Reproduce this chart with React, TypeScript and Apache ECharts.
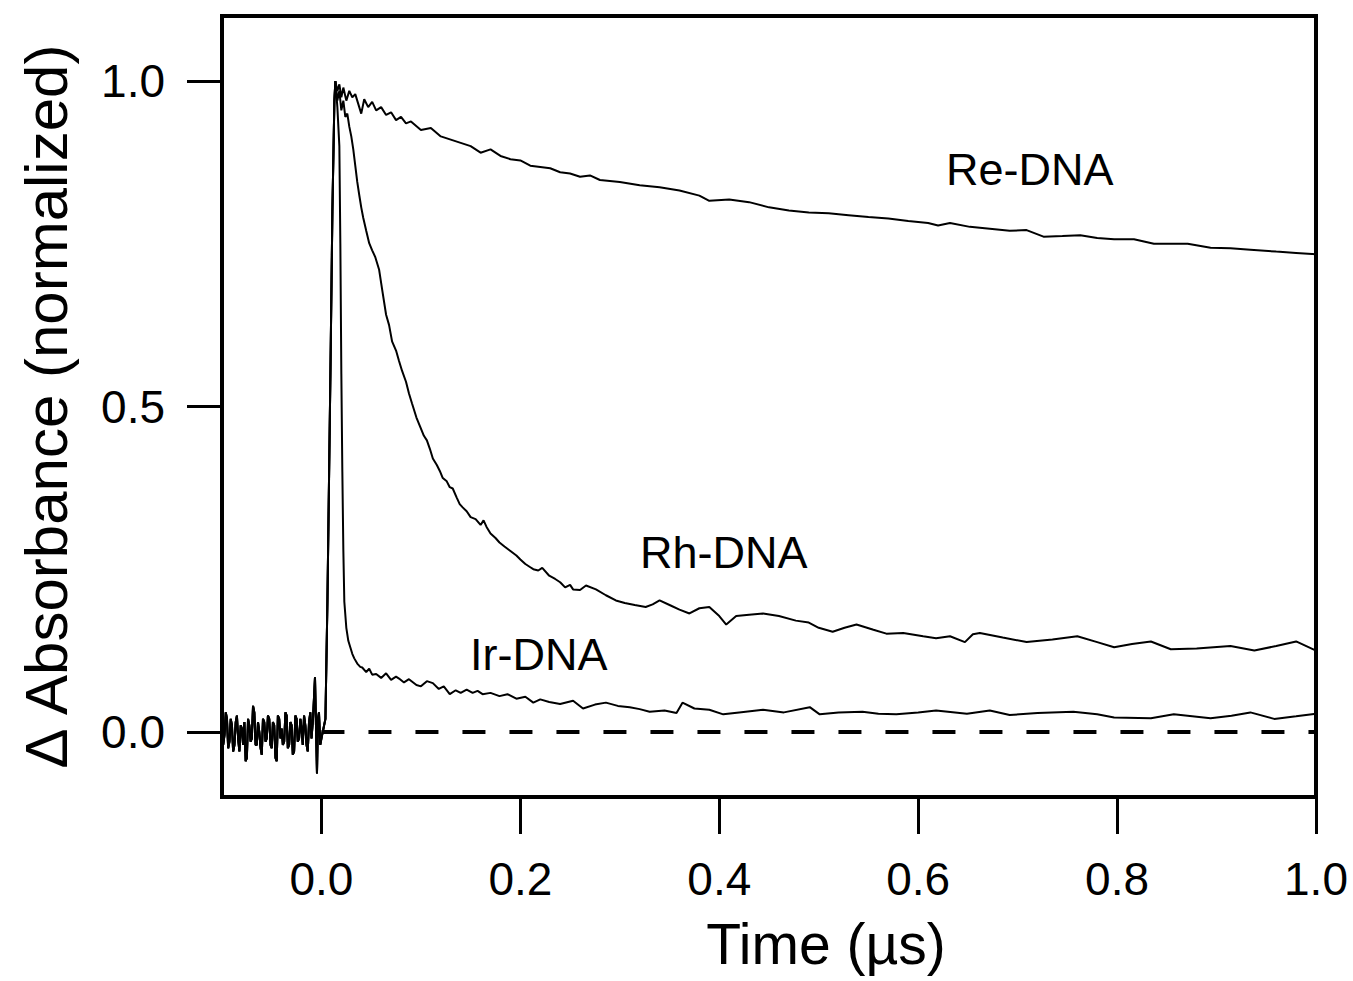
import React, { useEffect, useRef } from "react";
import * as echarts from "echarts";

// ---- data (time in µs, normalized ΔA) ----
const preTrigger: [number, number][] = [
  [-0.1, 0.035], [-0.0988, -0.02], [-0.0975, -0.005], [-0.0962, 0.03], [-0.095, 0.02],
  [-0.0938, -0.025], [-0.0925, -0.015], [-0.0912, 0.02], [-0.09, 0.01], [-0.0888, -0.03],
  [-0.0875, -0.02], [-0.0862, 0.015], [-0.085, 0.025], [-0.0838, -0.01], [-0.0825, -0.03],
  [-0.0812, 0.01], [-0.08, 0.005], [-0.0788, -0.02], [-0.0775, 0.015], [-0.0762, -0.045],
  [-0.075, -0.04], [-0.0738, 0.02], [-0.0725, 0.01], [-0.0712, -0.015], [-0.07, -0.01],
  [-0.0688, 0.04], [-0.0675, 0.03], [-0.0662, -0.02], [-0.065, -0.02], [-0.0638, 0.015],
  [-0.0625, 0.0], [-0.0612, -0.025], [-0.06, -0.035], [-0.0588, 0.02], [-0.0575, 0.015],
  [-0.0562, -0.015], [-0.055, -0.01], [-0.0538, 0.025], [-0.0525, 0.02], [-0.0512, -0.02],
  [-0.05, -0.025], [-0.0488, 0.015], [-0.0475, 0.01], [-0.0462, -0.04], [-0.045, -0.045],
  [-0.0438, 0.025], [-0.0425, 0.02], [-0.0412, -0.01], [-0.04, 0.005], [-0.0388, -0.02],
  [-0.0375, -0.015], [-0.0362, 0.03], [-0.035, 0.025], [-0.0338, -0.025], [-0.0325, -0.02],
  [-0.0312, 0.015], [-0.03, 0.01], [-0.0288, -0.035], [-0.0275, -0.03], [-0.0262, 0.025],
  [-0.025, 0.02], [-0.0238, -0.015], [-0.0225, -0.01], [-0.0212, 0.02], [-0.02, 0.005],
  [-0.0188, -0.02], [-0.0175, 0.025], [-0.0162, 0.01], [-0.015, -0.02], [-0.0138, -0.03],
  [-0.0125, 0.015], [-0.0112, 0.03], [-0.01, -0.01], [-0.0085, 0.02], [-0.0065, 0.084],
  [-0.0055, 0.01], [-0.0045, -0.064], [-0.0035, 0.02], [-0.0025, 0.03], [-0.0012, -0.02],
  [0.0, -0.01],
];

const rise: [number, number][] = [
  [0.004, 0.02], [0.006, 0.2], [0.009, 0.55], [0.011, 0.8], [0.013, 0.97], [0.014, 1.0],
];

const reDecay: [number, number][] = [
  [0.016, 0.985], [0.018, 0.995], [0.02, 0.975], [0.022, 0.99], [0.025, 0.97], [0.028, 0.985],
  [0.031, 0.975], [0.034, 0.98], [0.037, 0.965], [0.04, 0.95], [0.043, 0.972], [0.047, 0.96],
  [0.051, 0.968], [0.055, 0.955], [0.06, 0.96], [0.065, 0.948], [0.07, 0.952], [0.075, 0.94],
  [0.08, 0.945], [0.085, 0.935], [0.09, 0.938], [0.1, 0.925], [0.11, 0.928], [0.12, 0.915],
  [0.13, 0.91], [0.14, 0.905], [0.15, 0.9], [0.16, 0.89], [0.17, 0.895], [0.18, 0.885],
  [0.19, 0.88], [0.2, 0.878], [0.21, 0.87], [0.22, 0.868], [0.23, 0.866], [0.24, 0.86],
  [0.25, 0.858], [0.26, 0.853], [0.27, 0.855], [0.28, 0.848], [0.3, 0.845], [0.32, 0.84],
  [0.34, 0.837], [0.36, 0.832], [0.38, 0.824], [0.39, 0.816], [0.41, 0.818], [0.43, 0.814],
  [0.45, 0.806], [0.47, 0.801], [0.49, 0.798], [0.51, 0.797], [0.53, 0.794], [0.55, 0.791],
  [0.57, 0.789], [0.59, 0.785], [0.61, 0.782], [0.62, 0.778], [0.632, 0.782], [0.652, 0.776],
  [0.672, 0.773], [0.692, 0.77], [0.709, 0.771], [0.726, 0.761], [0.745, 0.762], [0.763, 0.763],
  [0.78, 0.759], [0.797, 0.757], [0.817, 0.757], [0.837, 0.75], [0.855, 0.75], [0.871, 0.75],
  [0.894, 0.744], [0.914, 0.743], [0.934, 0.741], [0.96, 0.738], [0.98, 0.736], [1.0, 0.734],
];

const rhDecay: [number, number][] = [
  [0.016, 0.97], [0.018, 0.985], [0.02, 0.955], [0.022, 0.97], [0.024, 0.945], [0.026, 0.95],
  [0.028, 0.93], [0.03, 0.915], [0.032, 0.895], [0.034, 0.87], [0.036, 0.845], [0.038, 0.825],
  [0.04, 0.806], [0.042, 0.79], [0.045, 0.77], [0.048, 0.751], [0.051, 0.74], [0.054, 0.73],
  [0.058, 0.71], [0.061, 0.68], [0.065, 0.641], [0.068, 0.625], [0.071, 0.6], [0.075, 0.586],
  [0.078, 0.57], [0.081, 0.555], [0.085, 0.538], [0.088, 0.52], [0.091, 0.505], [0.0955, 0.483],
  [0.099, 0.47], [0.103, 0.455], [0.106, 0.448], [0.109, 0.435], [0.112, 0.42], [0.116, 0.41],
  [0.119, 0.401], [0.122, 0.39], [0.126, 0.385], [0.129, 0.376], [0.132, 0.374], [0.136, 0.36],
  [0.139, 0.35], [0.142, 0.345], [0.146, 0.339], [0.15, 0.33], [0.155, 0.327], [0.16, 0.318],
  [0.163, 0.325], [0.166, 0.315], [0.17, 0.305], [0.175, 0.298], [0.179, 0.291], [0.184, 0.285],
  [0.19, 0.278], [0.196, 0.271], [0.2, 0.265], [0.205, 0.258], [0.21, 0.253], [0.213, 0.25],
  [0.218, 0.248], [0.222, 0.252], [0.229, 0.24], [0.235, 0.235], [0.24, 0.23], [0.245, 0.222],
  [0.25, 0.226], [0.253, 0.219], [0.26, 0.218], [0.266, 0.225], [0.276, 0.219], [0.286, 0.21],
  [0.296, 0.202], [0.305, 0.198], [0.315, 0.195], [0.326, 0.192], [0.333, 0.196], [0.34, 0.202],
  [0.35, 0.195], [0.36, 0.188], [0.37, 0.182], [0.38, 0.19], [0.39, 0.192], [0.4, 0.178],
  [0.407, 0.165], [0.417, 0.178], [0.43, 0.18], [0.444, 0.182], [0.46, 0.178], [0.477, 0.171],
  [0.49, 0.168], [0.5, 0.16], [0.514, 0.154], [0.526, 0.16], [0.538, 0.165], [0.555, 0.157],
  [0.568, 0.151], [0.585, 0.152], [0.605, 0.147], [0.618, 0.144], [0.632, 0.147], [0.647, 0.138],
  [0.655, 0.15], [0.662, 0.152], [0.685, 0.145], [0.709, 0.138], [0.735, 0.142], [0.76, 0.147],
  [0.78, 0.138], [0.797, 0.13], [0.815, 0.135], [0.834, 0.139], [0.854, 0.127], [0.88, 0.128],
  [0.914, 0.132], [0.938, 0.125], [0.96, 0.132], [0.98, 0.139], [1.0, 0.125],
];

const irDecay: [number, number][] = [
  [0.016, 0.96], [0.018, 0.9], [0.019, 0.75], [0.02, 0.55], [0.021, 0.4], [0.022, 0.28],
  [0.023, 0.2], [0.025, 0.16], [0.027, 0.14], [0.029, 0.13], [0.031, 0.12], [0.033, 0.113],
  [0.036, 0.105], [0.039, 0.1], [0.041, 0.099], [0.045, 0.092], [0.048, 0.097], [0.051, 0.088],
  [0.055, 0.089], [0.06, 0.083], [0.065, 0.09], [0.07, 0.08], [0.075, 0.085], [0.078, 0.082],
  [0.083, 0.076], [0.088, 0.081], [0.0955, 0.072], [0.1, 0.07], [0.106, 0.078], [0.112, 0.075],
  [0.118, 0.066], [0.123, 0.07], [0.129, 0.058], [0.135, 0.064], [0.14, 0.06], [0.146, 0.065],
  [0.152, 0.06], [0.157, 0.063], [0.162, 0.058], [0.17, 0.06], [0.179, 0.055], [0.187, 0.058],
  [0.196, 0.051], [0.205, 0.054], [0.213, 0.045], [0.22, 0.05], [0.229, 0.046], [0.24, 0.043],
  [0.253, 0.048], [0.263, 0.036], [0.275, 0.042], [0.286, 0.045], [0.298, 0.04], [0.31, 0.038],
  [0.32, 0.035], [0.33, 0.031], [0.345, 0.033], [0.357, 0.029], [0.363, 0.045], [0.375, 0.036],
  [0.39, 0.034], [0.404, 0.027], [0.42, 0.03], [0.444, 0.034], [0.465, 0.03], [0.491, 0.038],
  [0.501, 0.027], [0.52, 0.03], [0.544, 0.031], [0.56, 0.028], [0.578, 0.027], [0.6, 0.03],
  [0.618, 0.033], [0.649, 0.028], [0.672, 0.033], [0.692, 0.026], [0.72, 0.029], [0.756, 0.031],
  [0.78, 0.027], [0.797, 0.022], [0.834, 0.021], [0.857, 0.027], [0.894, 0.021], [0.915, 0.025],
  [0.934, 0.03], [0.958, 0.02], [0.98, 0.024], [1.0, 0.028],
];

const zeroLine: [number, number][] = [[0.0, 0.0], [1.0, 0.0]];

const xTicks = [0.0, 0.2, 0.4, 0.6, 0.8, 1.0];
const yTicks = [0.0, 0.5, 1.0];

const seriesNames = ["Re-DNA", "Rh-DNA", "Ir-DNA"];

const FONT = "'Liberation Sans', Arial, Helvetica, sans-serif";

export default function App() {
  const ref = useRef<HTMLDivElement>(null);

  useEffect(() => {
    if (!ref.current) return;
    const chart = echarts.init(ref.current, undefined, { renderer: "svg" });
    const traces = [reDecay, rhDecay, irDecay];
    const lineSeries = traces.map((d, i) => ({
      name: seriesNames[i],
      type: "line",
      data: [...preTrigger, ...rise, ...d],
      showSymbol: false,
      symbol: "none",
      lineStyle: { color: "#000", width: 2 },
      z: 3,
    }));

    chart.setOption({
      animation: false,
      backgroundColor: "#fff",
      grid: {
        left: 222,
        right: 37,
        top: 16,
        bottom: 184,
        show: true,
        borderColor: "#000",
        borderWidth: 4,
        backgroundColor: "transparent",
      },
      xAxis: {
        type: "value",
        min: -0.1,
        max: 1.0,
        name: "Time (µs)",
        nameLocation: "middle",
        nameGap: 118,
        nameTextStyle: {
          fontFamily: FONT,
          fontSize: 57,
          color: "#000",
          padding: [0, 0, 0, 114],
        },
        axisLine: { show: true, onZero: false, lineStyle: { color: "#000", width: 4 } },
        axisTick: {
          show: true,
          inside: false,
          length: 37,
          lineStyle: { color: "#000", width: 3 },
          customValues: xTicks,
        },
        axisLabel: {
          customValues: xTicks,
          margin: 59,
          fontFamily: FONT,
          fontSize: 46,
          color: "#000",
          formatter: (v: number) => v.toFixed(1),
        },
        splitLine: { show: false },
      },
      yAxis: {
        type: "value",
        min: -0.1,
        max: 1.1,
        name: "Δ Absorbance (normalized)",
        nameLocation: "middle",
        nameGap: 146,
        nameTextStyle: { fontFamily: FONT, fontSize: 60, color: "#000" },
        axisLine: { show: true, onZero: false, lineStyle: { color: "#000", width: 4 } },
        axisTick: {
          show: true,
          inside: false,
          length: 35,
          lineStyle: { color: "#000", width: 3 },
          customValues: yTicks,
        },
        axisLabel: {
          customValues: yTicks,
          margin: 57,
          fontFamily: FONT,
          fontSize: 46,
          color: "#000",
          formatter: (v: number) => v.toFixed(1),
        },
        splitLine: { show: false },
      },
      series: [
        {
          name: "zero",
          type: "line",
          data: zeroLine,
          showSymbol: false,
          symbol: "none",
          lineStyle: { color: "#000", width: 4, type: [23, 24] },
          z: 2,
        },
        ...lineSeries,
      ],
      graphic: [
        {
          type: "text",
          left: 946,
          top: 147,
          style: { text: "Re-DNA", fontFamily: FONT, fontSize: 45, fill: "#000" },
        },
        {
          type: "text",
          left: 640,
          top: 530,
          style: { text: "Rh-DNA", fontFamily: FONT, fontSize: 45, fill: "#000" },
        },
        {
          type: "text",
          left: 470,
          top: 632,
          style: { text: "Ir-DNA", fontFamily: FONT, fontSize: 45, fill: "#000" },
        },
      ],
    });

    return () => chart.dispose();
  }, []);

  return (
    <div
      ref={ref}
      style={{ position: "fixed", left: 0, top: 0, width: 1353, height: 981, background: "#fff" }}
    />
  );
}
